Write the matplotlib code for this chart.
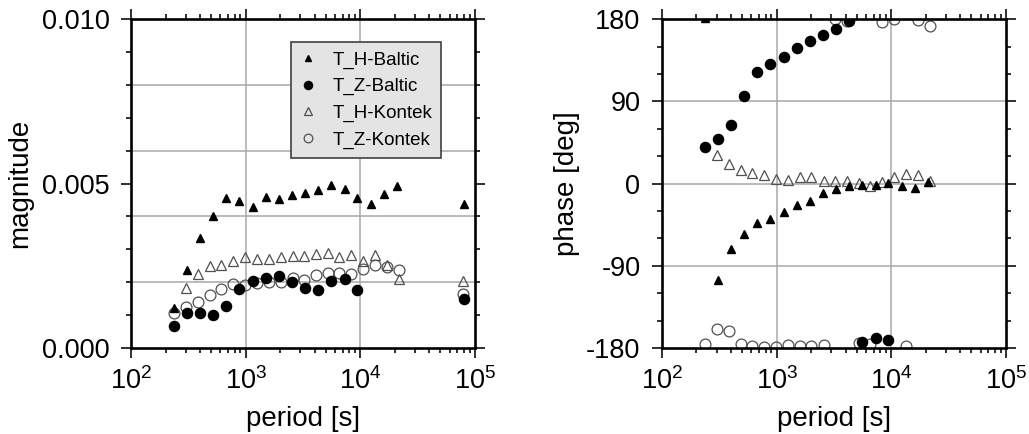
import numpy as np
import matplotlib
matplotlib.use('Agg')
import matplotlib.pyplot as plt
from matplotlib.ticker import MultipleLocator, LogLocator, NullFormatter

plt.rcParams['font.family'] = ['Liberation Sans', 'DejaVu Sans']
plt.rcParams['axes.unicode_minus'] = False

# ==============================
# datos
# ==============================
nan = np.nan

period_baltic = [238, 307, 398, 519, 680, 881, 1151, 1502, 1949, 2547, 3325,
                 4290, 5597, 7302, 9418, 12290, 15950, 20840, 80200]
mag_h_baltic = [1.22, 2.36, 3.35, 4.00, 4.57, 4.46, 4.30, 4.58, 4.53, 4.64, 4.72,
                4.80, 4.95, 4.85, 4.57, 4.38, 4.67, 4.92, 4.39]
mag_z_baltic = [0.66, 1.07, 1.07, 1.00, 1.29, 1.80, 2.05, 2.13, 2.18, 2.00, 1.83,
                1.78, 2.03, 2.11, 1.78, nan, nan, nan, 1.50]
pha_h_baltic = [181, -105.8, -71.9, -55.5, -42.7, -38.3, -30.6, -23.7, -19.0, -10.6, -5.5,
                -2.6, -1.9, -1.5, 1.1, -2.6, -4.4, 1.8, nan]
pha_z_baltic = [40.5, 48.5, 64.0, 95.9, 122.6, 131.3, 138.5, 148.8, 156.0, 162.3, 169.6,
                177.9, -173.3, -169.3, -171.5, nan, nan, nan, nan]

period_kontek = [238, 301, 385, 486, 615, 782, 986, 1264, 1595, 2014, 2578,
                 3258, 4117, 5196, 6565, 8356, 10560, 13310, 17070, 21830, 79100]
mag_h_kontek = [nan, 1.83, 2.26, 2.49, 2.54, 2.66, 2.78, 2.71, 2.71, 2.77, 2.79,
                2.81, 2.87, 2.89, 2.76, 2.84, 2.66, 2.82, 2.54, 2.10, 2.03]
mag_z_kontek = [1.07, 1.25, 1.40, 1.60, 1.81, 1.95, 1.93, 1.98, 2.00, 2.01, 2.13,
                2.08, 2.23, 2.29, 2.29, 2.26, 2.39, 2.52, 2.46, 2.36, 1.63]
pha_h_kontek = [nan, 31.3, 21.9, 14.6, 11.3, 9.1, 4.7, 3.9, 7.5, 7.5, 2.5,
                2.5, 2.5, 0.7, -2.6, 2.2, 7.3, 10.2, 9.4, 2.8, nan]
pha_z_kontek = [-175.1, -159.4, -161.3, -175.1, -177.7, -178.8, -178.8, -176.6, -177.7, -177.7, -176.6,
                180.5, 178.0, -174.0, -176.0, 176.8, 179.8, -177.7, 178.7, 172.5, nan]

labels = ['T_H-Baltic', 'T_Z-Baltic', 'T_H-Kontek', 'T_Z-Kontek']

# magnitudes en unidades de 1e-3
mag_h_baltic = np.array(mag_h_baltic) * 1e-3
mag_z_baltic = np.array(mag_z_baltic) * 1e-3
mag_h_kontek = np.array(mag_h_kontek) * 1e-3
mag_z_kontek = np.array(mag_z_kontek) * 1e-3

# ==============================
# figura
# ==============================
fig = plt.figure(figsize=(10.29, 4.34), dpi=100)
ax1 = fig.add_axes([0.1273, 0.198, 0.3343, 0.758])
ax2 = fig.add_axes([0.6433, 0.198, 0.3343, 0.758])

gray = '#505050'
sty_h_b = dict(ls='none', marker='^', ms=6.2, color='black', zorder=4)
sty_z_b = dict(ls='none', marker='o', ms=7.3, color='black', zorder=4)
sty_h_k = dict(ls='none', marker='^', ms=7.0, mfc='none', mec=gray, mew=0.9, zorder=3)
sty_z_k = dict(ls='none', marker='o', ms=7.8, mfc='none', mec=gray, mew=0.9, zorder=3)

# magnitud
h1, = ax1.plot(period_baltic, mag_h_baltic, label=labels[0], **sty_h_b)
h2, = ax1.plot(period_baltic, mag_z_baltic, label=labels[1], **sty_z_b)
h3, = ax1.plot(period_kontek, mag_h_kontek, label=labels[2], **sty_h_k)
h4, = ax1.plot(period_kontek, mag_z_kontek, label=labels[3], **sty_z_k)

# fase
ax2.plot(period_baltic, pha_h_baltic, **sty_h_b)
ax2.plot(period_baltic, pha_z_baltic, **sty_z_b)
ax2.plot(period_kontek, pha_h_kontek, **sty_h_k)
ax2.plot(period_kontek, pha_z_kontek, **sty_z_k)

for ax in (ax1, ax2):
    ax.set_xscale('log')
    ax.set_xlim(1e2, 1e5)
    ax.xaxis.set_major_locator(LogLocator(base=10))
    ax.xaxis.set_minor_locator(LogLocator(base=10, subs=np.arange(2, 10)))
    ax.xaxis.set_minor_formatter(NullFormatter())
    for v in [1e3, 1e4]:
        ax.axvline(v, color='#a8a8a8', lw=1.1, zorder=1)
    for s in ax.spines.values():
        s.set_linewidth(1.9)
        s.set_zorder(5)
    ax.tick_params(which='both', direction='out', top=True, right=True,
                   labelsize=19.5, width=1.3, color='#202020')
    ax.tick_params(which='major', length=7.5, pad=6)
    ax.tick_params(which='minor', length=3.5)
    ax.tick_params(axis='y', which='major', pad=8)
    ax.set_xlabel('period [s]', fontsize=20, labelpad=8)

ax1.set_ylim(0, 0.010)
ax1.yaxis.set_major_locator(MultipleLocator(0.005))
ax1.yaxis.set_minor_locator(MultipleLocator(0.001))
ax1.yaxis.set_major_formatter(plt.FormatStrFormatter('%.3f'))
for v in [0.002, 0.004, 0.006, 0.008]:
    ax1.axhline(v, color='#a8a8a8', lw=1.1, zorder=1)
ax1.set_ylabel('magnitude', fontsize=20, labelpad=6)

ax2.set_ylim(-180, 180)
ax2.yaxis.set_major_locator(MultipleLocator(90))
ax2.yaxis.set_minor_locator(MultipleLocator(30))
for v in [-90, 0, 90]:
    ax2.axhline(v, color='#a8a8a8', lw=1.1, zorder=1)
ax2.set_ylabel('phase [deg]', fontsize=20, labelpad=4)

leg = ax1.legend(handles=[h1, h2, h3, h4], loc='upper left', bbox_to_anchor=(0.465, 0.93),
                 borderaxespad=0, fontsize=13.5, markerscale=0.8, handlelength=0.8,
                 handletextpad=0.9, labelspacing=0.5, borderpad=0.5,
                 fancybox=False, framealpha=1)
leg.get_frame().set_facecolor('#e4e4e4')
leg.get_frame().set_edgecolor('#404040')
leg.get_frame().set_linewidth(1.2)
leg.set_zorder(6)

plt.savefig('out.png', dpi=100)
